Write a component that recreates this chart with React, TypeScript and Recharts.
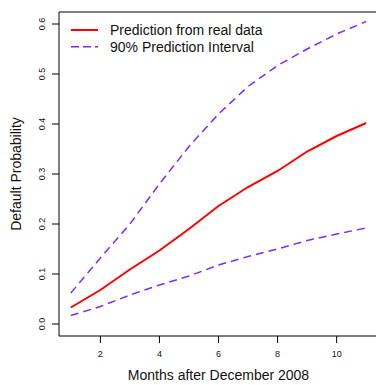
import React from 'react';
import { LineChart, Line, XAxis, YAxis, ReferenceArea, Label } from 'recharts';

const months = [1, 2, 3, 4, 5, 6, 7, 8, 9, 10, 11];
const prediction = [0.033, 0.068, 0.109, 0.147, 0.19, 0.236, 0.274, 0.306, 0.345, 0.376, 0.402];
const upper = [0.062, 0.132, 0.2, 0.28, 0.355, 0.42, 0.475, 0.517, 0.55, 0.58, 0.605];
const lower = [0.017, 0.035, 0.058, 0.078, 0.096, 0.118, 0.135, 0.15, 0.167, 0.18, 0.192];
const xTicks = [2, 4, 6, 8, 10];
const yTicks = [0, 0.1, 0.2, 0.3, 0.4, 0.5, 0.6];

const FONT = '"Liberation Sans", Arial, sans-serif';
const RED = '#ff0000';
const PURPLE = '#7a2bff';

const data = months.map((m, i) => ({
  month: m,
  prediction: prediction[i],
  upper: upper[i],
  lower: lower[i],
}));

const XTick = (props: any) => (
  <text x={props.x} y={props.y + 12} textAnchor="middle" fontSize={9} fontFamily={FONT} fill="#111">
    {props.payload.value}
  </text>
);

const YTick = (props: any) => {
  const x = props.x - 1;
  return (
    <text
      x={x}
      y={props.y}
      textAnchor="middle"
      fontSize={9}
      fontFamily={FONT}
      fill="#111"
      transform={`rotate(-90, ${x}, ${props.y})`}
    >
      {Number(props.payload.value).toFixed(1)}
    </text>
  );
};

// legend sits inside the plot box, top-left, no frame (like bty="n")
const LegendBox = () => (
  <svg width={260} height={46} style={{ position: 'absolute', left: 59, top: 14, display: 'block' }}>
    <line x1={12} x2={39} y1={16} y2={16} stroke={RED} strokeWidth={2} />
    <text x={51} y={21} fontSize={14} fontFamily={FONT} fill="#111">Prediction from real data</text>
    <line x1={12} x2={39} y1={32.7} y2={32.7} stroke={PURPLE} strokeWidth={1.5} strokeDasharray="8 4" />
    <text x={51} y={37.7} fontSize={14} fontFamily={FONT} fill="#111">90% Prediction Interval</text>
  </svg>
);

export default function App() {
  return (
    <div style={{ position: 'absolute', left: 0, top: 0, width: 376, height: 385, overflow: 'hidden', background: '#fff' }}>
      <LineChart width={378} height={385} data={data} margin={{ top: 12, right: 0, bottom: 0, left: 0 }}>
        <XAxis
          dataKey="month"
          type="number"
          domain={[0.6, 11.4]}
          ticks={xTicks}
          allowDataOverflow
          height={49}
          axisLine={false}
          tickLine={{ stroke: '#000' }}
          tickSize={7}
          tickMargin={2}
          tick={<XTick />}
        >
          <Label
            value="Months after December 2008"
            position="insideBottom"
            offset={5}
            style={{ fontSize: 14, fontFamily: FONT, fill: '#111' }}
          />
        </XAxis>
        <YAxis
          type="number"
          domain={[-0.024, 0.624]}
          ticks={yTicks}
          allowDataOverflow
          width={59}
          axisLine={false}
          tickLine={{ stroke: '#000' }}
          tickSize={7}
          tickMargin={6}
          tick={<YTick />}
        >
          <Label
            value="Default Probability"
            angle={-90}
            position="insideLeft"
            offset={16}
            style={{ fontSize: 14, fontFamily: FONT, fill: '#111', textAnchor: 'middle' }}
          />
        </YAxis>
        <ReferenceArea x1={0.6} x2={11.4} y1={-0.024} y2={0.624} fill="none" stroke="#000" strokeWidth={1} ifOverflow="visible" />
        <Line dataKey="upper" stroke={PURPLE} strokeWidth={1.5} strokeDasharray="8 5" dot={false} type="linear" isAnimationActive={false} />
        <Line dataKey="lower" stroke={PURPLE} strokeWidth={1.5} strokeDasharray="8 5" dot={false} type="linear" isAnimationActive={false} />
        <Line dataKey="prediction" stroke={RED} strokeWidth={2} dot={false} type="linear" isAnimationActive={false} />
      </LineChart>
      <LegendBox />
    </div>
  );
}
